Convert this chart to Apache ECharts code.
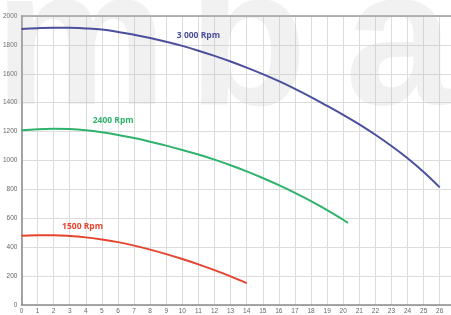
<!DOCTYPE html>
<html>
<head>
<meta charset="utf-8">
<script src="https://cdn.jsdelivr.net/npm/echarts@6/dist/echarts.min.js"></script>
<style>
  html, body { margin: 0; padding: 0; background: #fff; }
  #chart { width: 451px; height: 315px; }
</style>
</head>
<body>
<div id="chart"></div>
<script>
// flow (x) positions and heads for each speed curve
const x3000 = [0, 1, 2, 3, 4, 5, 6, 7, 8, 9, 10, 11, 12, 13, 14, 15, 16, 17, 18, 19, 20, 21, 22, 23, 24, 25, 26];
const y3000 = [1910, 1916, 1919, 1918, 1914, 1906, 1890, 1870, 1848, 1822, 1793, 1760, 1724, 1685, 1643, 1598, 1549, 1496, 1439, 1378, 1316, 1250, 1178, 1100, 1015, 920, 814];
const x2400 = [0, 1, 2, 3, 4, 5, 6, 7, 8, 9, 10, 11, 12, 13, 14, 15, 16, 17, 18, 19, 20, 20.3];
const y2400 = [1210, 1217, 1220, 1218, 1210, 1196, 1177, 1155, 1130, 1103, 1073, 1041, 1006, 967, 925, 879, 829, 776, 719, 657, 590, 568];
const x1500 = [0, 1, 2, 3, 4, 5, 6, 7, 8, 9, 10, 11, 12, 13, 14];
const y1500 = [480, 483, 483, 478, 468, 454, 435, 411, 383, 352, 318, 281, 241, 198, 151];
// curve names and where their labels sit (data coords)
const names = ["3 000 Rpm", "2400 Rpm", "1500 Rpm"];
const labelAt = [[11.0, 1862], [5.7, 1276], [3.8, 545]];

const colors = ["#4b4f9c", "#2fb36c", "#e5442e"];

function pairs(xs, ys) {
  return xs.map((x, i) => [x, ys[i]]);
}

function curve(i, xs, ys) {
  return {
    name: names[i],
    type: "line",
    data: pairs(xs, ys),
    smooth: 0.4,
    showSymbol: false,
    lineStyle: { color: colors[i], width: 2 },
    z: 3,
    markPoint: {
      symbol: "circle",
      symbolSize: 0,
      silent: true,
      label: {
        show: true,
        position: "inside",
        formatter: names[i],
        color: colors[i],
        fontSize: 8.5,
        fontWeight: "bold",
        fontFamily: "Open Sans",
      },
      data: [{ coord: labelAt[i] }],
    },
  };
}

const wmFont = "bold 195px 'Liberation Sans'";
const wmFill = "rgba(190,190,190,0.22)";

const chart = echarts.init(document.getElementById("chart"));
chart.setOption({
  animation: false,
  backgroundColor: "#fff",
  grid: { left: 21, right: 0, top: 16, bottom: 9 },
  xAxis: [
    {
      type: "value",
      min: 0,
      max: 26.7,
      interval: 1,
      axisLine: { show: true, lineStyle: { color: "#8a8a8a", width: 1.5 } },
      axisTick: { show: false },
      axisLabel: { fontSize: 6.5, color: "#666", margin: 3, showMaxLabel: false, fontFamily: "Liberation Sans" },
      splitLine: { show: true, lineStyle: { color: "#dcdcdc", width: 1 } },
    },
    {
      type: "value",
      position: "top",
      min: 0,
      max: 26.7,
      axisLine: { show: true, lineStyle: { color: "#9a9a9a", width: 1.5 } },
      axisTick: { show: false },
      axisLabel: { show: false },
      splitLine: { show: false },
    },
  ],
  yAxis: {
    type: "value",
    min: 0,
    max: 2000,
    interval: 200,
    axisLine: { show: true, lineStyle: { color: "#8a8a8a", width: 1.5 } },
    axisTick: { show: false },
    axisLabel: { fontSize: 6.5, color: "#666", margin: 4, formatter: (v) => String(v), fontFamily: "Liberation Sans" },
    splitLine: { show: true, lineStyle: { color: "#dcdcdc", width: 1 } },
  },
  graphic: [
    // faint logo watermark
    { type: "text", z: 1, style: { text: "m", x: -6, y: 50, verticalAlign: "middle", font: wmFont, fill: wmFill } },
    { type: "text", z: 1, style: { text: "b", x: 188, y: 50, verticalAlign: "middle", font: wmFont, fill: wmFill } },
    { type: "text", z: 1, style: { text: "a", x: 345, y: 50, verticalAlign: "middle", font: wmFont, fill: wmFill } },
  ],
  series: [
    curve(0, x3000, y3000),
    curve(1, x2400, y2400),
    curve(2, x1500, y1500),
  ],
});
</script>
</body>
</html>
